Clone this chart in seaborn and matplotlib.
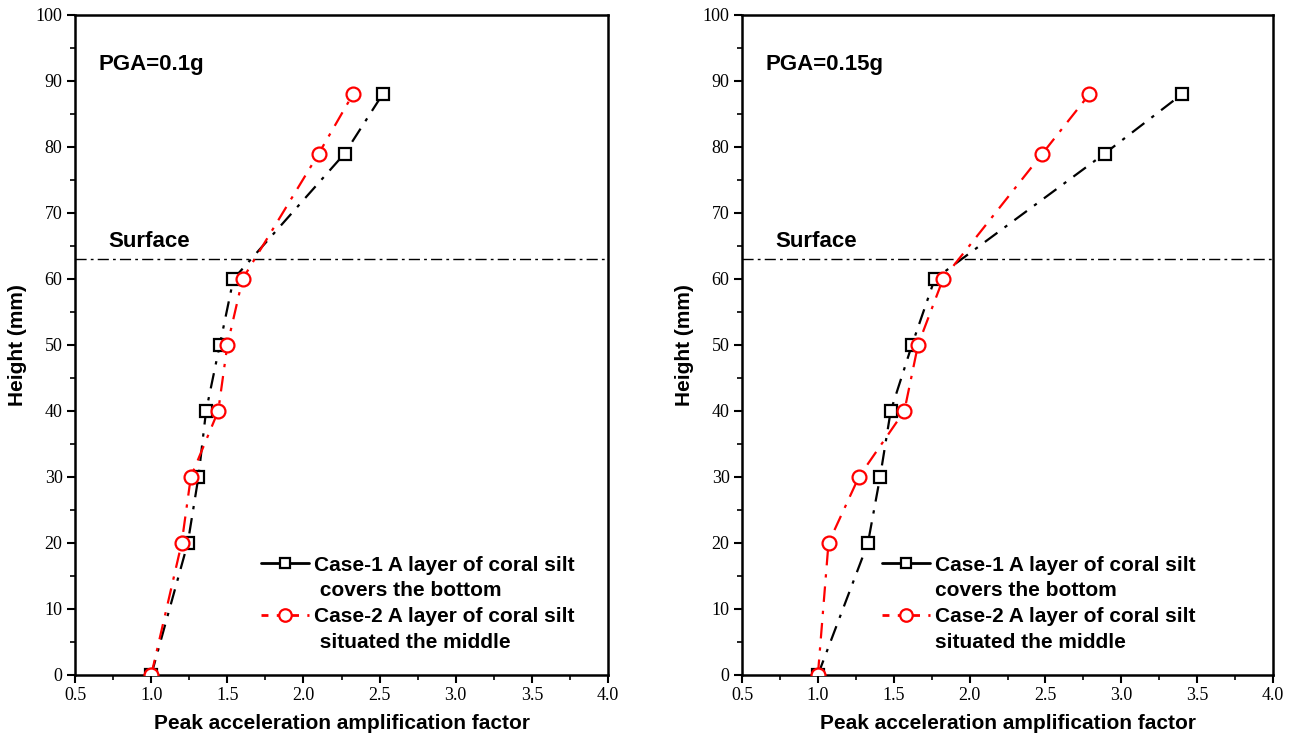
import matplotlib
matplotlib.use("Agg")
import matplotlib.pyplot as plt
from matplotlib.lines import Line2D
from matplotlib.ticker import MultipleLocator
import seaborn as sns
import pandas as pd

heights = [0, 20, 30, 40, 50, 60, 79, 88]

# PGA = 0.1g
case1_01 = [1.0, 1.24, 1.31, 1.36, 1.45, 1.54, 2.27, 2.52]
case2_01 = [1.0, 1.20, 1.26, 1.44, 1.50, 1.60, 2.10, 2.325]
# PGA = 0.15g
case1_015 = [1.0, 1.33, 1.41, 1.48, 1.62, 1.77, 2.89, 3.40]
case2_015 = [1.0, 1.07, 1.27, 1.57, 1.66, 1.825, 2.48, 2.79]

surface = 63
panels = ["PGA=0.1g", "PGA=0.15g"]
label_lines = [("Case-1 A layer of coral silt", "covers the bottom"),
               ("Case-2 A layer of coral silt", "situated the middle")]

sns.set_style("ticks")
plt.rcParams["font.family"] = ["Liberation Sans", "DejaVu Sans"]
plt.rcParams.update({"text.color": "black", "axes.labelcolor": "black",
                     "xtick.color": "black", "ytick.color": "black",
                     "axes.edgecolor": "black"})

fig = plt.figure(figsize=(12.95, 7.42), dpi=100)
ax1 = fig.add_axes([0.058, 0.0903, 0.4115, 0.8895])
ax2 = fig.add_axes([0.573, 0.0903, 0.410, 0.8895])

for ax, title, c1, c2, legx, indent in [
        (ax1, panels[0], case1_01, case2_01, 0.349, " "),
        (ax2, panels[1], case1_015, case2_015, 0.264, "")]:
    df = pd.DataFrame({"x1": c1, "x2": c2, "h": heights})
    sns.lineplot(data=df, x="x1", y="h", ax=ax, sort=False, estimator=None,
                 color="black", lw=1.6, marker="s", markersize=8,
                 markerfacecolor="white", markeredgecolor="black",
                 markeredgewidth=1.6, linestyle=(0, (7, 4, 1.5, 4)), zorder=3)
    sns.lineplot(data=df, x="x2", y="h", ax=ax, sort=False, estimator=None,
                 color="red", lw=1.6, marker="o", markersize=10,
                 markerfacecolor="white", markeredgecolor="red",
                 markeredgewidth=1.6, linestyle=(0, (7, 4, 1.5, 4)), zorder=4)
    ax.axhline(surface, color="black", lw=1.0, linestyle=(0, (8, 3, 2, 3)), zorder=2)
    ax.text(0.717, surface + 1.8, "Surface", fontsize=16, fontweight="bold")
    ax.text(0.655, 91.6, title, fontsize=16, fontweight="bold")

    ax.set_xlim(0.5, 4.0)
    ax.set_ylim(0, 100)
    ax.xaxis.set_major_locator(MultipleLocator(0.5))
    ax.xaxis.set_minor_locator(MultipleLocator(0.25))
    ax.yaxis.set_major_locator(MultipleLocator(10))
    ax.yaxis.set_minor_locator(MultipleLocator(5))
    ax.tick_params(which="major", direction="out", length=6, width=1.5,
                   labelsize=13, pad=3)
    ax.tick_params(which="minor", direction="out", length=3.5, width=1.2)
    for lab in ax.get_xticklabels() + ax.get_yticklabels():
        lab.set_fontfamily("Liberation Serif")
    for sp in ax.spines.values():
        sp.set_visible(True)
        sp.set_linewidth(1.8)
    ax.set_xlabel("Peak acceleration amplification factor", fontsize=15,
                  fontweight="bold", labelpad=7)
    ax.set_ylabel("Height (mm)", fontsize=15, fontweight="bold", labelpad=6)

    blank = Line2D([], [], linestyle="none")
    handles = [
        Line2D([], [], color="black", lw=2, marker="s", markersize=7,
               markerfacecolor="white", markeredgewidth=1.6),
        blank,
        Line2D([], [], color="red", lw=2, linestyle=(0, (2.5, 3)), marker="o",
               markersize=9, markerfacecolor="white", markeredgewidth=1.6),
        blank,
    ]
    labels = [label_lines[0][0], indent + label_lines[0][1],
              label_lines[1][0], indent + label_lines[1][1]]
    ax.legend(handles, labels, loc="upper left",
              bbox_to_anchor=(legx, 0.181), frameon=False,
              prop={"weight": "bold", "size": 15}, handlelength=2.3,
              handletextpad=0.25, labelspacing=0.32, borderaxespad=0,
              borderpad=0)

fig.savefig("out.png", dpi=100)
